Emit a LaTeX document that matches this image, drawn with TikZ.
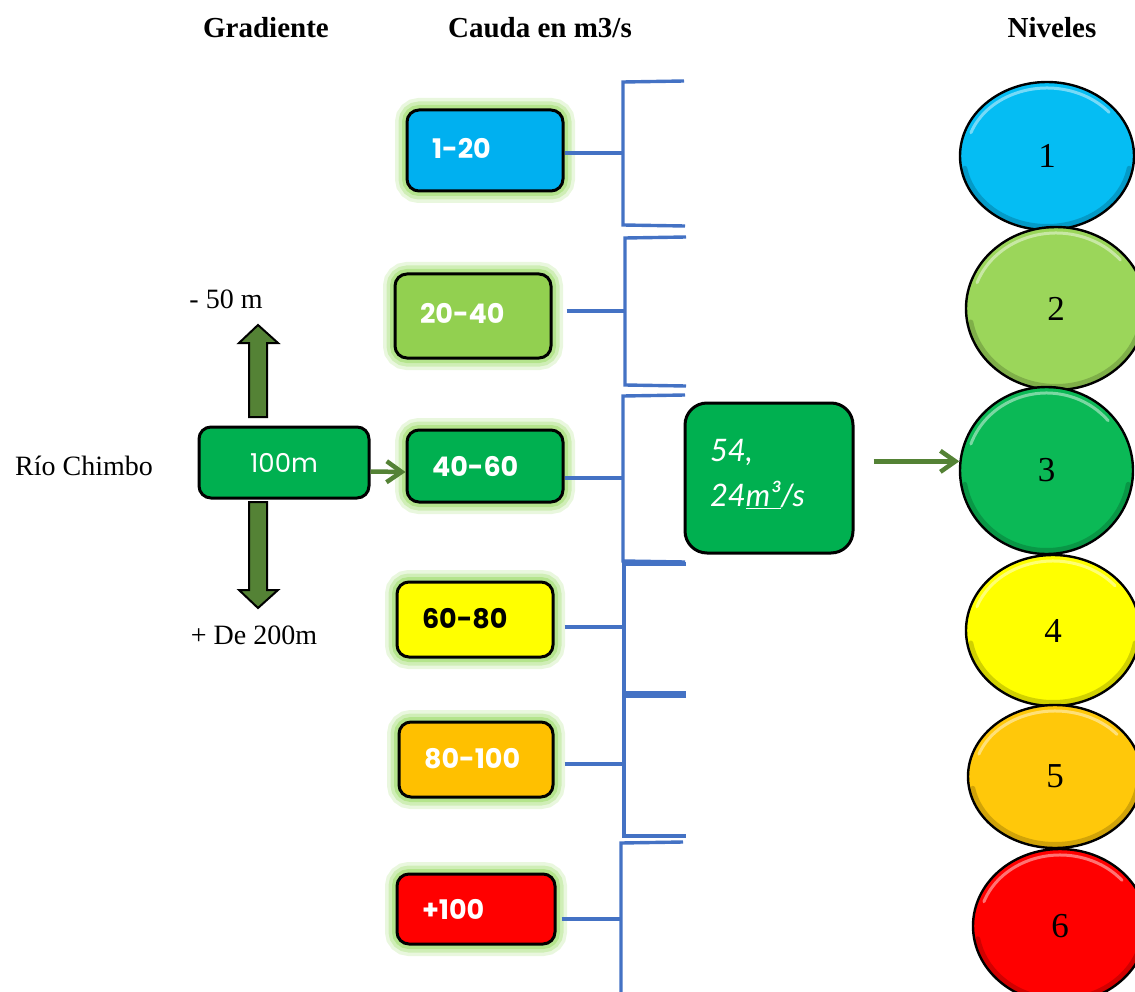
\documentclass[tikz,border=0pt]{standalone}
\usepackage{fontspec}
\setmainfont{Liberation Serif}
\newfontfamily\boxfont{Poppins}
\newfontfamily\handfont{Lato}
\usetikzlibrary{shapes.geometric,arrows.meta,calc}
\definecolor{ccyan}{HTML}{00B0F0}
\definecolor{clgreen}{HTML}{92D050}
\definecolor{cgreen}{HTML}{00B050}
\definecolor{cyellow}{HTML}{FFFF00}
\definecolor{corange}{HTML}{FFC000}
\definecolor{cred}{HTML}{FF0000}
\definecolor{glowc}{HTML}{A8E07A}
\definecolor{olive}{HTML}{548235}
\definecolor{bblue}{HTML}{4472C4}
\definecolor{kcyan}{HTML}{05BDF3}
\definecolor{klgreen}{HTML}{9BD65A}
\definecolor{kgreen}{HTML}{0BB956}
\definecolor{korange}{HTML}{FFC80A}
\newcommand\mybevel[4]{%
  \draw[white,opacity=.45,line width=3pt,line cap=round]
    ({#1+(#3-6)*cos(200)},{#2+(#4-6)*sin(200)})
    arc[start angle=200,end angle=320,x radius=#3-6,y radius=#4-6];
  \draw[black,opacity=.18,line width=5pt,line cap=round]
    ({#1+(#3-3.5)*cos(10)},{#2+(#4-3.5)*sin(10)})
    arc[start angle=10,end angle=170,x radius=#3-3.5,y radius=#4-3.5];
}
\begin{document}
\begin{tikzpicture}[x=1pt,y=-1pt,
  glow/.style={preaction={draw=glowc,line width=24pt,opacity=.25},
               preaction={draw=glowc,line width=17pt,opacity=.4},
               preaction={draw=glowc,line width=10pt,opacity=.7}},
  cbox/.style={draw=black,line width=3pt,rounded corners=12pt,inner xsep=25pt,
               inner ysep=0pt,align=left,text=white,
               font=\boxfont\bfseries\fontsize{27}{30}\selectfont},
  head/.style={font=\bfseries\fontsize{29}{32}\selectfont},
  lbl/.style={font=\fontsize{28}{32}\selectfont},
  lvl/.style={ellipse,draw=black,line width=2.4pt,inner sep=0pt,
              font=\fontsize{35}{37}\selectfont},
  garrow/.style={draw=olive,line width=4.5pt,-{Straight Barb[length=15pt,width=21pt]}},
  blockarrow/.style={fill=olive,draw=black,line width=2pt,line join=miter},
  brk/.style={draw=bblue,line width=3.4pt}
]
\useasboundingbox (0,0) rectangle (1135,992);
\clip (0,0) rectangle (1135,992);

% headings
\node[head] (hg) at (266,28) {Gradiente};
\node[head] (hc) at (540,28) {Cauda en m3/s};
\node[head] (hn) at (1052,28) {Niveles};

% left labels
\node[lbl] (rio) at (84,466) {Río Chimbo};
\node[lbl] (m50) at (226,299) {- 50 m};
\node[lbl] (m200) at (254,635) {+ De 200m};

% block arrows
\path[blockarrow] (258,325) -- (278,343) -- (267,343) -- (267,417) -- (249,417) -- (249,343) -- (239,343) -- cycle;
\path[blockarrow] (258,608) -- (278,590) -- (267,590) -- (267,502) -- (249,502) -- (249,590) -- (239,590) -- cycle;

% 100m box
\node[cbox,fill=cgreen,minimum width=170pt,minimum height=71pt,align=center,
      font=\boxfont\fontsize{26}{30}\selectfont,inner xsep=0pt,text width=170pt] (m100) at (284,462.5) {100m};

% flow boxes
\node[cbox,glow,fill=ccyan,minimum height=81pt,text width=106pt] (b1) at (485,150.5) {\raisebox{5pt}{1-20}};
\node[cbox,glow,fill=clgreen,minimum height=84pt,text width=106pt] (b2) at (473,316) {\raisebox{5pt}{20-40}};
\node[cbox,glow,fill=cgreen,minimum height=72pt,text width=106pt] (b3) at (485,466) {40-60};
\node[cbox,glow,fill=cyellow,minimum height=75pt,text width=106pt,text=black] (b4) at (475,619.5) {\raisebox{2pt}{60-80}};
\node[cbox,glow,fill=corange,minimum height=75pt,text width=104pt] (b5) at (476,759.5) {\raisebox{2pt}{80-100}};
\node[cbox,glow,fill=cred,minimum height=70pt,text width=108pt] (b6) at (476,909) {+100};

\draw[garrow] ([yshift=-9pt]m100.east) -- ([yshift=-6pt]b3.west);

% brackets
\coordinate (k1) at (623,153);
\coordinate (k2) at (625,311);
\coordinate (k3) at (623,478);
\coordinate (k4) at (624,627);
\coordinate (k5) at (624,764);
\coordinate (k6) at (621,919);
\draw[brk] (684,81) -- (623,82) -- (623,225) -- (685,226);
\draw[brk] (686,237) -- (625,238) -- (625,385) -- (686,386);
\draw[brk] (685,395) -- (623,396) -- (623,561) -- (685,562);
\draw[brk] (686,564) -- (624,564) -- (624,693) -- (686,693);
\draw[brk] (686,696) -- (624,696) -- (624,836) -- (686,836);
\draw[brk] (683,842) -- (621,843) -- (621,995);
\draw[brk] (b1.east |- k1) -- (k1);
\draw[brk,shorten <=14pt] (b2.east |- k2) -- (k2);
\draw[brk] (b3.east |- k3) -- (k3);
\draw[brk,shorten <=10pt] (b4.east |- k4) -- (k4);
\draw[brk,shorten <=10pt] (b5.east |- k5) -- (k5);
\draw[brk,shorten <=5pt] (b6.east |- k6) -- (k6);

% result box
\node[cbox,fill=cgreen,rounded corners=22pt,minimum height=150pt,text width=118pt,
      inner xsep=25pt,font=\handfont\itshape\fontsize{31}{45}\selectfont] (g54) at (769,478)
      {\raisebox{10pt}{\parbox[b]{118pt}{54,\\24\underline{m³}/s}}};

% levels
\node[lvl,fill=kcyan,minimum width=174pt,minimum height=148pt] (n1) at (1047,156) {1};
\node[lvl,fill=klgreen,minimum width=180pt,minimum height=163pt] (n2) at (1056,308.5) {2};
\node[lvl,fill=kgreen,minimum width=173pt,minimum height=167pt] (n3) at (1046.5,470.5) {3};
\node[lvl,fill=cyellow,minimum width=174pt,minimum height=151pt] (n4) at (1053,630.5) {4};
\node[lvl,fill=korange,minimum width=174pt,minimum height=143pt] (n5) at (1055,776.5) {5};
\node[lvl,fill=cred,minimum width=174pt,minimum height=154pt] (n6) at (1060,926) {6};
\mybevel{1047}{156}{87}{74}
\mybevel{1056}{308.5}{90}{81.5}
\mybevel{1046.5}{470.5}{86.5}{83.5}
\mybevel{1053}{630.5}{87}{75.5}
\mybevel{1055}{776.5}{87}{71.5}
\mybevel{1060}{926}{87}{77}

\draw[garrow,shorten <=19pt] (g54.east |- n3.174) -- (n3.174);
\end{tikzpicture}
\end{document}
